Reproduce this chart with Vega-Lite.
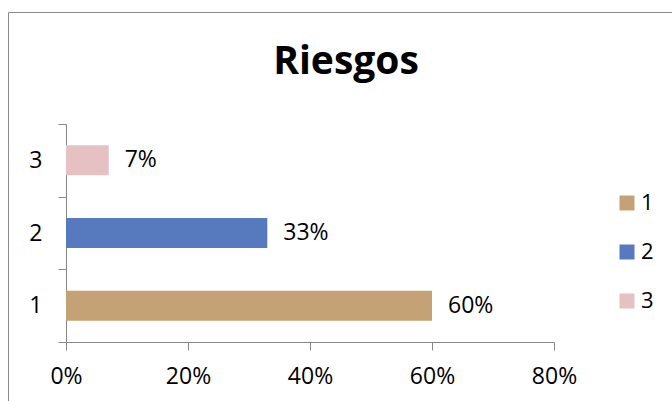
{
  "$schema": "https://vega.github.io/schema/vega-lite/v6.json",
  "width": 664,
  "height": 389,
  "autosize": {"type": "none"},
  "padding": {"left": 8, "top": 12, "right": 0, "bottom": 0},
  "background": "white",
  "config": {
    "view": {"stroke": "#8c8c8c", "strokeWidth": 1},
    "font": "Open Sans"
  },
  "title": {
    "text": "Riesgos",
    "font": "Open Sans",
    "fontSize": 39,
    "fontWeight": "bold",
    "color": "#000000",
    "anchor": "middle",
    "baseline": "alphabetic",
    "offset": -65,
    "dy": 47,
    "dx": 6
  },
  "data": {
    "values": [
      {"riesgo": "1", "porcentaje": 0.60},
      {"riesgo": "2", "porcentaje": 0.33},
      {"riesgo": "3", "porcentaje": 0.07}
    ]
  },
  "encoding": {
    "y": {
      "field": "riesgo",
      "type": "nominal",
      "sort": ["3", "2", "1"],
      "scale": {"range": [112, 330], "paddingInner": 0, "paddingOuter": 0},
      "axis": {
        "title": null,
        "offset": -58,
        "tickBand": "extent",
        "tickSize": 8,
        "domainColor": "#868686",
        "tickColor": "#868686",
        "labelFontSize": 23,
        "labelColor": "#000000",
        "labelPadding": 16,
        "labelFont": "Open Sans"
      }
    },
    "x": {
      "field": "porcentaje",
      "type": "quantitative",
      "scale": {"domain": [0, 0.8], "range": [58, 546], "nice": false},
      "axis": {
        "title": null,
        "offset": -59,
        "values": [0, 0.2, 0.4, 0.6, 0.8],
        "format": ".0%",
        "grid": false,
        "labelFlush": false,
        "tickSize": 8,
        "domainColor": "#868686",
        "tickColor": "#868686",
        "labelFontSize": 23,
        "labelColor": "#000000",
        "labelPadding": 15,
        "labelFont": "Open Sans"
      }
    }
  },
  "layer": [
    {
      "mark": {"type": "bar", "height": {"band": 0.413}},
      "encoding": {
        "color": {
          "field": "riesgo",
          "type": "nominal",
          "scale": {"domain": ["1", "2", "3"], "range": ["#c4a276", "#5779bd", "#e6c1c3"]},
          "legend": {
            "title": null,
            "orient": "none",
            "legendX": 608,
            "legendY": 180,
            "padding": 0,
            "symbolType": "square",
            "symbolSize": 225,
            "symbolStrokeWidth": 0,
            "labelFontSize": 22,
            "labelColor": "#000000",
            "labelOffset": 3,
            "rowPadding": 27,
            "labelFont": "Open Sans"
          }
        }
      }
    },
    {
      "mark": {
        "type": "text",
        "align": "left",
        "baseline": "middle",
        "dx": 16,
        "fontSize": 23,
        "color": "#000000",
        "font": "Open Sans"
      },
      "encoding": {
        "text": {"field": "porcentaje", "type": "quantitative", "format": ".0%"}
      }
    }
  ]
}
